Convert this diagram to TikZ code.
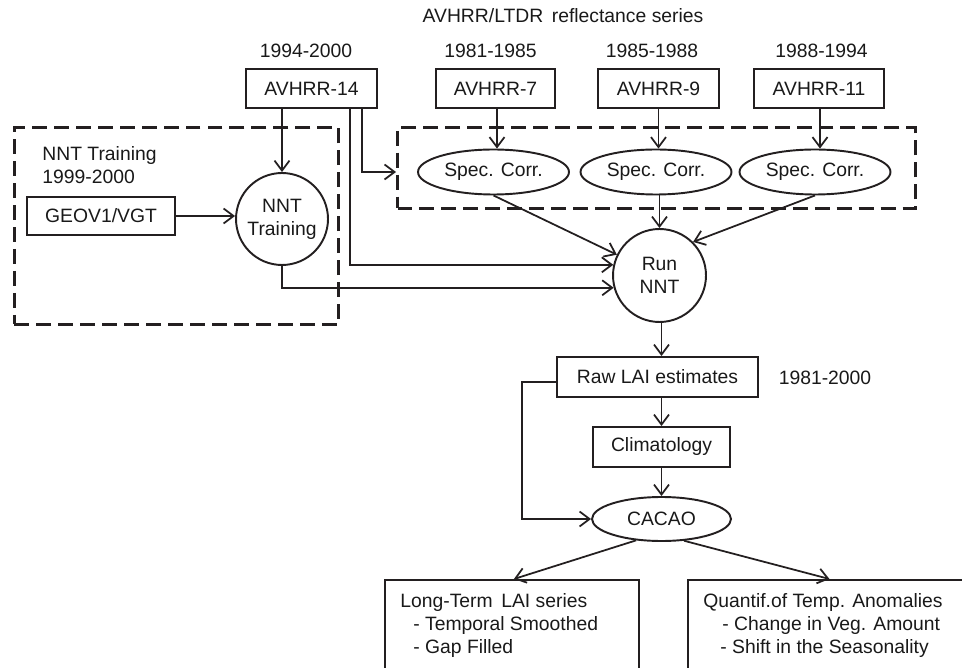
\documentclass[tikz,border=0pt]{standalone}
\usepackage{fontspec}
\setmainfont{Liberation Sans}
\usetikzlibrary{
    shapes.geometric,
    arrows.meta,
    positioning,
    calc
}
\definecolor{lineBlack}{RGB}{35, 31, 32}
\definecolor{textBlack}{RGB}{25, 25, 25}
\newcommand{\diagFont}{\fontsize{11}{13}\selectfont}
\tikzset{
    basic/.style={
        draw=lineBlack,
        line width=1.1pt,
        text=textBlack,
        font=\diagFont,
        inner sep=0pt,
        align=center
    },
    satBox/.style={
        basic,
        rectangle,
        minimum height=0.78cm
    },
    corrNode/.style={
        basic,
        ellipse,
        minimum width=3.02cm,
        minimum height=0.9cm
    },
    nntNode/.style={
        basic,
        circle,
        minimum size=1.86cm
    },
    outBox/.style={
        basic,
        rectangle,
        anchor=north west,
        minimum height=2.8cm
    },
    boxText/.style={
        text=textBlack,
        font=\diagFont,
        align=left,
        inner sep=0pt,
        anchor=north west
    },
    label/.style={
        text=textBlack,
        font=\diagFont,
        inner sep=0pt
    },
    groupFrame/.style={
        rectangle,
        draw=lineBlack,
        line width=1.7pt,
        dash pattern=on 8.5pt off 4pt,
        anchor=north west,
        inner sep=0pt
    },
    flow/.style={
        draw=lineBlack,
        line width=1pt,
        -{Straight Barb[length=0.2cm, width=0.3cm, line width=1pt]}
    }
}

\begin{document}
\begin{tikzpicture}[x=0.02cm, y=-0.02cm]
    \useasboundingbox (0,0) rectangle (962,668);
    \clip (0,0) rectangle (962,668);

    \node[label] (title) at (563,16) {AVHRR/LTDR\, reflectance series};

    % Sensors and their periods
    \node[satBox, minimum width=2.62cm] (avhrr14) at (311.5,88.5) {AVHRR-14};
    \node[satBox, minimum width=2.38cm] (avhrr7) at (495.5,88.5) {AVHRR-7};
    \node[satBox, minimum width=2.42cm] (avhrr9) at (658.5,88.5) {AVHRR-9};
    \node[satBox, minimum width=2.60cm] (avhrr11) at (819,88.5) {AVHRR-11};

    \node[label] (year14) at (306,51) {1994-2000};
    \node[label] (year7) at (490.5,51) {1981-1985};
    \node[label] (year9) at (652,51) {1985-1988};
    \node[label] (year11) at (821.5,51) {1988-1994};

    % Dashed groups
    \node[groupFrame, minimum width=6.48cm, minimum height=3.94cm] (trainFrame) at (13,126) {};
    \node[groupFrame, minimum width=10.36cm, minimum height=1.62cm] (corrFrame) at (396,126) {};
    \node[boxText] (trainLabel) at (42,146) {NNT Training\\1999-2000};

    % Training
    \node[satBox, minimum width=2.96cm, minimum height=0.76cm] (geov) at (101,216) {GEOV1/VGT};
    \node[nntNode, minimum size=1.84cm] (nntTrain) at (282,219) {NNT\\Training};

    % Spectral corrections
    \node[corrNode] (spec7) at (493.5,172) {Spec. Corr.};
    \node[corrNode] (spec9) at (656,172) {Spec. Corr.};
    \node[corrNode] (spec11) at (815,172) {Spec. Corr.};

    \node[nntNode] (runNNT) at (659.5,275.5) {Run\\NNT};

    % LAI products
    \node[satBox, minimum width=4.02cm, minimum height=0.8cm] (rawLAI) at (657.5,377) {Raw LAI estimates};
    \node[label] (yearLAI) at (825,378) {1981-2000};
    \node[satBox, minimum width=2.74cm, minimum height=0.8cm] (climat) at (661.5,447) {Climatology};
    \node[corrNode, minimum width=2.78cm, minimum height=0.88cm] (cacao) at (661.5,519) {CACAO};

    \node[outBox, minimum width=5.08cm] (longTerm) at (384,579) {};
    \node[outBox, minimum width=5.66cm] (quantBox) at (687,579) {};
    \node[boxText] (longText) at ($(longTerm.north west)+(16,14)$)
        {Long-Term\, LAI series\\\hspace*{0.26cm}- Temporal Smoothed\\\hspace*{0.26cm}- Gap Filled};
    \node[boxText] (quantText) at ($(quantBox.north west)+(16,14)$)
        {Quantif.of Temp. Anomalies\\\hspace*{0.38cm}- Change in Veg. Amount\\\hspace*{0.34cm}- Shift in the Seasonality};

    % Connectors
    \draw[flow] (avhrr14.south -| nntTrain.north) -- (nntTrain.north);
    \draw[flow] ($(avhrr14.south)+(50.5,0)$) |- (corrFrame.west |- spec7);
    \draw[flow] ($(avhrr14.south)+(38.5,0)$) |- (runNNT.167);
    \draw[flow] (geov.east) -- (geov.east -| nntTrain.west);
    \draw[flow] (nntTrain.south) |- (runNNT.195);

    \draw[flow] ($(avhrr7.south)+(1.5,0)$) -- ($(avhrr7.south |- spec7.north)+(1.5,0)$);
    \draw[flow] (avhrr9.south) -- (avhrr9.south |- spec9.north);
    \draw[flow] ($(avhrr11.south)+(1,0)$) -- ($(avhrr11.south |- spec11.north)+(1,0)$);

    \draw[flow] (spec7.south) -- (runNNT.154);
    \draw[flow] (runNNT.north |- spec9.south) -- (runNNT.north);
    \draw[flow] (spec11.south) -- (runNNT.45);

    \draw[flow] ($(runNNT.south)+(2,0)$) -- ($(runNNT.south |- rawLAI.north)+(2,0)$);
    \draw[flow] (climat.north |- rawLAI.south) -- (climat.north);
    \draw[flow] (climat.south) -- (cacao.north);
    \draw[flow] ($(rawLAI.west)+(0,5)$) -- ++(-34,0) |- (cacao.west);

    \draw[flow] (cacao.220) -- ($(longTerm.north)+(2,0)$);
    \draw[flow] (cacao.316) -- (quantBox.north);
\end{tikzpicture}
\end{document}
